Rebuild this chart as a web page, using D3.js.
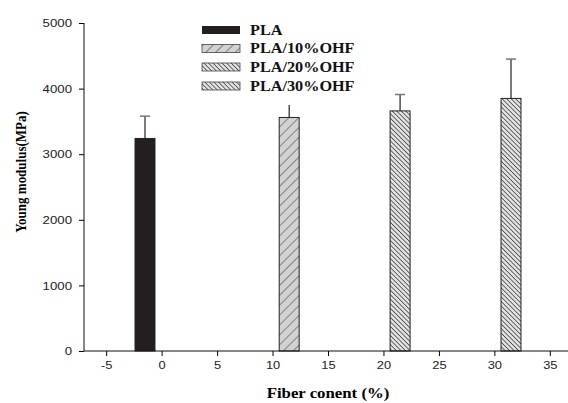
<!DOCTYPE html>
<html><head><meta charset="utf-8">
<script src="https://cdn.jsdelivr.net/npm/d3@7"></script>
<style>body{margin:0;background:#fff}svg{display:block}
.sx{transform-box:fill-box;transform-origin:center;transform:scaleX(1.12)}
.sxl{transform-box:fill-box;transform-origin:left center;transform:scaleX(1.12)}
.sxr{transform-box:fill-box;transform-origin:right center;transform:scaleX(1.15)}
</style>
</head><body>
<script>
const categories = ["PLA", "PLA/10%OHF", "PLA/20%OHF", "PLA/30%OHF"];
const positions = [-1.5, 11.5, 21.5, 31.5];
const values = [3240, 3560, 3660, 3850];
const errors = [340, 220, 250, 600];
const xTicks = [-5, 0, 5, 10, 15, 20, 25, 30, 35];
const yTicks = [0, 1000, 2000, 3000, 4000, 5000];

const W = 568, H = 403;
const svg = d3.select("body").append("svg").attr("width", W).attr("height", H);
const defs = svg.append("defs");
const p1 = defs.append("pattern").attr("id","fwd").attr("patternUnits","userSpaceOnUse")
  .attr("width",7).attr("height",7).attr("patternTransform","rotate(45)");
p1.append("rect").attr("width",7).attr("height",7).attr("fill","#d2d2d2");
p1.append("line").attr("x1",0).attr("y1",0).attr("x2",0).attr("y2",7).attr("stroke","#333").attr("stroke-width",1);
const p2 = defs.append("pattern").attr("id","bwd").attr("patternUnits","userSpaceOnUse")
  .attr("width",3.2).attr("height",3.2).attr("patternTransform","rotate(-45)");
p2.append("rect").attr("width",3.2).attr("height",3.2).attr("fill","#e2e2e2");
p2.append("line").attr("x1",0).attr("y1",0).attr("x2",0).attr("y2",3.2).attr("stroke","#333").attr("stroke-width",1.4);
const fills = ["#231f20", "url(#fwd)", "url(#bwd)", "url(#bwd)"];

const x = d3.scaleLinear().domain([-7, 37]).range([84, 572]);
const y = d3.scaleLinear().domain([0, 5000]).range([351, 23]);
const bw = x(1.8) - x(0);

const data = categories.map((c,i)=>({c, p:positions[i], v:values[i], e:errors[i], f:fills[i]}));

// error bars
const eb = svg.append("g");
data.forEach(d=>{
  eb.append("line").attr("x1",x(d.p)).attr("x2",x(d.p)).attr("y1",y(d.v)).attr("y2",y(d.v+d.e))
    .attr("stroke","#222").attr("stroke-width",1.2);
  eb.append("line").attr("x1",x(d.p)-5).attr("x2",x(d.p)+5).attr("y1",y(d.v+d.e)).attr("y2",y(d.v+d.e))
    .attr("stroke","#777").attr("stroke-width",1.5);
});

svg.append("g").selectAll("rect").data(data).join("rect")
  .attr("x", d=>x(d.p)-bw/2).attr("width", bw)
  .attr("y", d=>y(d.v)).attr("height", d=>y(0)-y(d.v))
  .attr("fill", d=>d.f).attr("stroke","#222").attr("stroke-width",1);

// axes
const fmt = d => String(d);
const ax = svg.append("g").attr("transform","translate(0,351)")
  .call(d3.axisBottom(x).tickValues(xTicks).tickFormat(fmt).tickSize(5).tickPadding(5));
ax.select(".domain").attr("d","M84,0H568").attr("stroke","#111");
ax.selectAll("text").attr("font-family","Liberation Sans, Arial").attr("font-size",11.5).attr("fill","#222").attr("class","sx");
const ay = svg.append("g").attr("transform","translate(84,0)")
  .call(d3.axisLeft(y).tickValues(yTicks).tickFormat(fmt).tickSize(5).tickPadding(7));
ay.select(".domain").attr("d","M0,23V351").attr("stroke","#111");
ay.selectAll("text").attr("font-family","Liberation Sans, Arial").attr("font-size",11.5).attr("fill","#222").attr("class","sxr");

// legend
const lg = svg.append("g");
lg.append("rect").attr("x",198).attr("y",20).attr("width",165).attr("height",85).attr("fill","#fff");
const ly = [30, 48.5, 67, 86];
data.forEach((d,i)=>{
  lg.append("rect").attr("x",202).attr("y",ly[i]-4).attr("width",38).attr("height",8)
    .attr("fill",d.f).attr("stroke", i===0?"none":"#444").attr("stroke-width",0.8);
  lg.append("text").attr("x",250).attr("y",ly[i]+5).text(d.c).attr("class","sxl")
    .attr("font-family","Liberation Serif, Times New Roman").attr("font-weight","bold").attr("font-size",14.5).attr("fill","#111");
});

svg.append("text").attr("x",328).attr("y",398).attr("text-anchor","middle").attr("class","sx")
  .attr("font-family","Liberation Serif, Times New Roman").attr("font-weight","bold").attr("font-size",15)
  .text("Fiber conent (%)");
svg.append("text").attr("transform","translate(26,172) rotate(-90) scale(1,1.15)").attr("text-anchor","middle")
  .attr("font-family","Liberation Serif, Times New Roman").attr("font-weight","bold").attr("font-size",13)
  .text("Young modulus(MPa)");
</script>
</body></html>
